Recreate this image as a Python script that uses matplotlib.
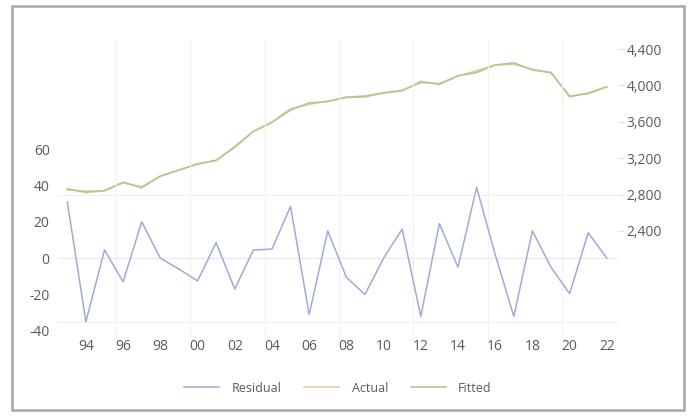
import matplotlib as mpl
mpl.use('Agg')
import matplotlib.pyplot as plt
from matplotlib.patches import Rectangle

years = list(range(1993, 2023))
tick_years = list(range(1994, 2023, 2))
tick_labels = ['%02d' % (y % 100) for y in tick_years]

residual = [31, -35, 4.5, -13, 20, 0, -6, -12.5, 8.5, -17, 4.5, 5, 28.5, -31, 15,
            -10.5, -20, 0, 16, -32, 19, -5, 39, 2, -32, 15, -5, -19.5, 14, 0]
actual = [2867, 2818, 2844, 2929, 2885, 3003, 3067, 3133, 3178, 3318, 3496, 3596, 3744, 3792, 3829,
          3867, 3873, 3918, 3948, 4029, 4022, 4103, 4162, 4226, 4233, 4178, 4140, 3873, 3918, 3985]
fitted = [2852, 2835, 2842, 2936, 2875, 3003, 3070, 3139, 3174, 3326, 3494, 3594, 3730, 3808, 3822,
          3872, 3883, 3918, 3940, 4045, 4012, 4106, 4142, 4225, 4249, 4170, 4142, 3883, 3911, 3985]

left_ticks = [-40, -20, 0, 20, 40, 60]
right_ticks = [2400, 2800, 3200, 3600, 4000, 4400]

plt.rcParams['font.family'] = ['Open Sans', 'DejaVu Sans']
txt = '#5a5a5a'

fig = plt.figure(figsize=(6.91, 4.16), dpi=100)
fig.patches.append(Rectangle((12/691, 6/416), 672/691, 404/416, transform=fig.transFigure,
                             fill=False, edgecolor='#a8a8a8', linewidth=1.8))

ax = fig.add_axes([58/691, 76/416, 560/691, 300/416])
ax2 = ax.twinx()
ax.set_zorder(2)
ax.patch.set_visible(False)

# faint grid
for g in range(1995, 2022, 4):
    ax.axvline(g + 0.6, color='#f2f2f2', linewidth=0.8, zorder=0)
ax.axhline(0, color='#e6e9f2', linewidth=0.8, zorder=0)
ax.axhline(-35, color='#f0f0f0', linewidth=0.8, zorder=0)
ax2.axhline(2800, color='#f0f0f0', linewidth=0.8, zorder=0)

l1, = ax.plot(years, residual, color='#9eabd6', linewidth=1.1, label='Residual')
l2, = ax2.plot(years, actual, color='#e6c99c', linewidth=1.2, label='Actual')
l3, = ax2.plot(years, fitted, color='#b9c497', linewidth=1.2, label='Fitted')

ax.set_xlim(1992.5, 2022.6)
ax.set_ylim(-45, 120)
ax2.set_ylim(1200, 4500)

ax.set_yticks(left_ticks)
ax.set_yticklabels([str(t) for t in left_ticks])
ax2.set_yticks(right_ticks)
ax2.set_yticklabels(['{:,}'.format(t) for t in right_ticks])
ax.set_xticks(tick_years)
ax.set_xticklabels(tick_labels)

for a in (ax, ax2):
    for s in a.spines.values():
        s.set_visible(False)
ax.tick_params(axis='y', length=0, labelsize=10, colors=txt, pad=6)
ax.tick_params(axis='x', length=0, labelsize=10, colors=txt, pad=-1)
ax2.tick_params(axis='y', length=4, color='#e0e0e0', labelsize=10, colors=txt, pad=2)

fig.legend(handles=[l1, l2, l3], loc='center', bbox_to_anchor=(338/691, 1 - 388/416),
           ncol=3, frameon=False, fontsize=9, labelcolor=txt, handlelength=2.8,
           columnspacing=1.8, handletextpad=1.0)

fig.savefig('out.png', dpi=100)
